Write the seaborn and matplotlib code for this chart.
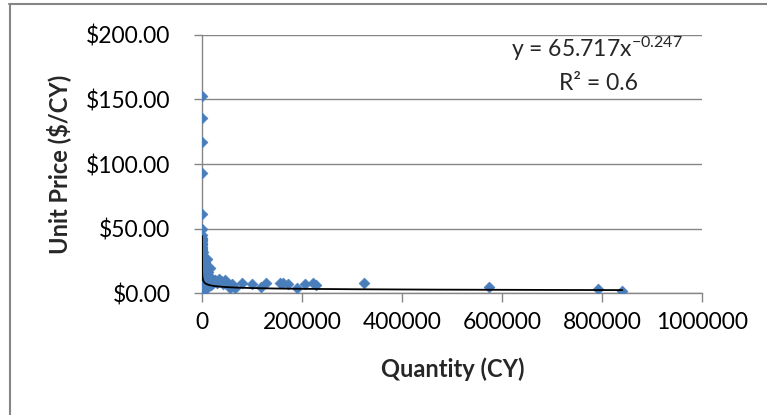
import matplotlib
matplotlib.use("Agg")
import matplotlib.pyplot as plt
from matplotlib.lines import Line2D
from matplotlib.ticker import FuncFormatter
import numpy as np
import seaborn as sns

# ---------------- data ----------------
quantity = [
    # outliers at very small quantity
    400, 250, 600, 350, 150, 500,
    # dense cluster near zero
    5, 10, 20, 100, 300, 200, 500, 150, 800, 400, 1000, 250, 1500, 600,
    2000, 350, 1200, 2500, 700, 3000, 450, 1800, 3500, 900, 4000, 1100,
    5000, 2200, 6000, 1600, 2800, 3200, 4500, 5500, 700, 300, 100, 50,
    200, 80, 400, 60, 250, 120, 80, 300,
    # blob just right of the axis
    7000, 8000, 9000, 10000, 11000, 12000, 14000, 16000, 18000, 20000,
    22000, 9400, 6500, 7500, 12500, 15000, 5000,
    # tail
    26000, 30000, 34000, 38000, 42000, 46000, 50000, 56000, 66000,
    # spread along the bottom
    59400, 79400, 99400, 117400, 127400, 156000, 162000, 172000, 189400,
    206000, 222600, 228000, 324600, 574000, 791400, 840600,
]
unit_price = [
    153, 136, 117, 93, 61, 50,
    40, 45, 43, 42, 41, 39, 38, 36, 35, 33, 32, 30, 29, 27,
    26, 24, 23, 21, 20, 18, 17, 16, 14, 13, 12, 10,
    9, 8, 7, 6, 5, 4, 3, 2, 2, 3, 5, 7,
    11, 15, 19, 22, 26, 28, 34, 37,
    10, 14, 8, 18, 11, 7, 13, 9, 6, 11,
    8, 26, 20, 22, 16, 19, 24,
    10, 8, 11, 9, 7, 10, 8, 4, 4,
    7, 8, 7, 5, 7.5, 7.5, 8, 7, 4,
    7, 8, 6.5, 8, 5, 3, 1.8,
]

# power trendline coefficients (from the chart's equation label)
coef_a = 65.717
coef_b = -0.247
r_squared = 0.6

x_ticks = [0, 200000, 400000, 600000, 800000, 1000000]
y_ticks = [0, 50, 100, 150, 200]

# ---------------- style ----------------
sns.set_style("white")
plt.rcParams["font.family"] = ["Lato", "DejaVu Sans"]
plt.rcParams["mathtext.fontset"] = "custom"
plt.rcParams["mathtext.rm"] = "Lato"
plt.rcParams["mathtext.it"] = "Lato"
plt.rcParams["mathtext.bf"] = "Lato:bold"

W, H = 767, 415
fig = plt.figure(figsize=(W / 100, H / 100), dpi=100)
fig.patch.set_facecolor("white")
ax = fig.add_axes([202 / W, 1 - 293 / H, 500 / W, 258 / H])

grid_c = "#868686"
blue = "#4A7EBB"

sns.scatterplot(x=quantity, y=unit_price, ax=ax, marker="D", s=30,
                color=blue, edgecolor=blue, linewidth=0.5, zorder=3)

xs = np.geomspace(min(quantity), max(quantity), 600)
sns.lineplot(x=xs, y=coef_a * xs ** coef_b, ax=ax, color="black",
             linewidth=1.3, zorder=4)

ax.set_xlim(0, 1000000)
ax.set_ylim(0, 200)
ax.set_xticks(x_ticks)
ax.set_yticks(y_ticks)
ax.xaxis.set_major_formatter(FuncFormatter(lambda v, p: f"{int(v)}"))
ax.yaxis.set_major_formatter(FuncFormatter(lambda v, p: f"${v:,.2f}"))

ax.yaxis.grid(True, color=grid_c, linewidth=1.0)
ax.xaxis.grid(False)
ax.set_axisbelow(True)
for s in ["top", "right"]:
    ax.spines[s].set_visible(False)
for s in ["left", "bottom"]:
    ax.spines[s].set_color(grid_c)
    ax.spines[s].set_linewidth(1.0)

ax.tick_params(axis="x", direction="out", length=6.5, width=1, color=grid_c,
               pad=7, labelsize=16.5, labelcolor="black", bottom=True)
ax.tick_params(axis="y", direction="out", length=5.8, width=1, color=grid_c,
               pad=17, labelsize=16.5, labelcolor="black", left=True)

ax.set_xlabel("Quantity (CY)", fontsize=17, fontweight="bold")
ax.set_ylabel("Unit Price ($/CY)", fontsize=17, fontweight="bold")
ax.xaxis.set_label_coords(0.501, -0.248)
ax.yaxis.set_label_coords(-0.262, 0.5)

fig.text(683 / W, 1 - 57 / H, r"y = 65.717x$^{\mathrm{-0.247}}$",
         ha="right", va="baseline", fontsize=16.5)
fig.text(638 / W, 1 - 90 / H, "R\u00b2 = 0.6",
         ha="right", va="baseline", fontsize=16.5)

# chart-area border (only top and left visible in the reference)
fig.add_artist(Line2D([9.5 / W, 9.5 / W], [0, 1 - 4 / H],
                      transform=fig.transFigure, color=grid_c, linewidth=1.5))
fig.add_artist(Line2D([9 / W, 1], [1 - 4.5 / H, 1 - 4.5 / H],
                      transform=fig.transFigure, color=grid_c, linewidth=1.5))

fig.savefig("out.png", dpi=100, facecolor="white")
